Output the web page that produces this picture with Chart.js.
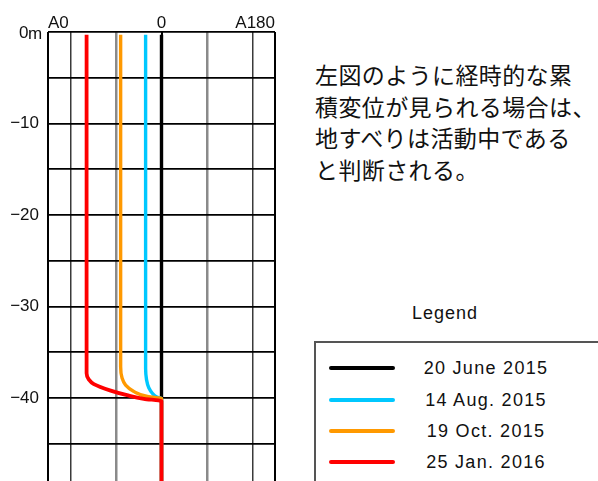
<!DOCTYPE html>
<html lang="ja">
<head>
<meta charset="utf-8">
<title>孔内傾斜計 累積変位</title>
<script src="https://cdn.jsdelivr.net/npm/chart.js@4/dist/chart.umd.min.js"></script>
<style>
  html, body { margin: 0; padding: 0; background: #fff; }
  body { width: 598px; height: 481px; overflow: hidden; position: relative; }
  #plot { position: absolute; left: 0; top: 0; width: 290px; height: 520px; }
  #note {
    position: absolute; left: 315px; top: 59px; margin: 0;
    font-family: "Noto Sans CJK JP", sans-serif; font-size: 23px;
    line-height: 31.7px; letter-spacing: 0.4px; color: #111; white-space: nowrap;
  }
  #legendTitle {
    position: absolute; left: 395px; top: 303px; width: 100px; text-align: center;
    font-family: "Liberation Sans", Arial, sans-serif; font-size: 18px; letter-spacing: 1px; color: #111;
  }
  #legendBox {
    position: absolute; left: 314px; top: 341px; width: 320px; height: 200px;
    border: 2px solid #555; box-sizing: border-box;
  }
  .entry { position: absolute; left: 0; width: 300px; height: 20px; }
  .swatch { position: absolute; left: 13px; top: 8px; width: 66px; height: 4px; border-radius: 2px; }
  .label {
    position: absolute; left: 100px; width: 140px; top: 0; text-align: center;
    font-family: "Liberation Sans", Arial, sans-serif; font-size: 18px; letter-spacing: 1.3px;
    line-height: 20px; color: #111; white-space: nowrap;
  }
</style>
</head>
<body>
<canvas id="plot" width="290" height="520"></canvas>
<p id="note">左図のように経時的な累<br>積変位が見られる場合は、<br>地すべりは活動中である<br>と判断される。</p>
<div id="legendTitle">Legend</div>
<div id="legendBox"></div>
<script>
// Measurement dates and line colours
const seriesNames = ['20 June 2015', '14 Aug. 2015', '19 Oct. 2015', '25 Jan. 2016'];
const seriesColors = ['#000000', '#00c8ff', '#ff9900', '#ff0000'];

// Cumulative displacement (A0 negative, A180 positive) against depth in metres
const juneDisp  = [0, 0];
const juneDepth = [-0.3, -53];

const augDisp   = [-0.35, -0.35, -0.33, -0.28, -0.2, -0.1, 0, 0];
const augDepth  = [-0.3, -36.8, -38.0, -38.9, -39.5, -39.9, -40.05, -53];

const octDisp   = [-0.9, -0.9, -0.87, -0.79, -0.61, -0.31, -0.09, 0, 0];
const octDepth  = [-0.3, -36.6, -37.8, -38.6, -39.3, -39.85, -40.0, -40.05, -53];

const janDisp   = [-1.65, -1.65, -1.6, -1.49, -1.12, -0.76, -0.39, 0, 0];
const janDepth  = [-0.3, -37.3, -38.0, -38.5, -39.2, -39.7, -40.1, -40.35, -53];

// Axis ticks
const depthGrid   = [0, -5, -10, -15, -20, -25, -30, -35, -40, -45, -50];
const depthLabels = [-10, -20, -30, -40];
const dispGrid    = [-2.5, -2, -1, 0, 1, 2, 2.5];
const topLabels   = ['A0', '0', 'A180'];

const dispSeries  = [juneDisp, augDisp, octDisp, janDisp];
const depthSeries = [juneDepth, augDepth, octDepth, janDepth];

const toPoints = (xs, ys) => xs.map((x, i) => ({ x: x, y: ys[i] }));

const datasets = seriesNames.map((name, i) => ({
  label: name,
  data: toPoints(dispSeries[i], depthSeries[i]),
  borderColor: seriesColors[i],
  backgroundColor: seriesColors[i],
  borderWidth: i === 3 ? 3.8 : 3.4,
  showLine: true,
  pointRadius: 0,
  cubicInterpolationMode: 'monotone',
  fill: false,
  order: seriesNames.length - i,
  borderCapStyle: 'butt'
}));

// Labels above the plot and the "0m" depth label
const frameLabels = {
  id: 'frameLabels',
  afterDraw(chart) {
    const { ctx, chartArea, scales } = chart;
    ctx.save();
    ctx.fillStyle = '#111';
    ctx.font = '17px "Liberation Sans", Arial, sans-serif';
    ctx.textBaseline = 'alphabetic';
    const base = chartArea.top - 4;
    ctx.textAlign = 'left';
    ctx.fillText(topLabels[0], scales.x.getPixelForValue(dispGrid[0]), base);
    ctx.textAlign = 'center';
    ctx.fillText(topLabels[1], scales.x.getPixelForValue(0), base);
    ctx.textAlign = 'right';
    ctx.fillText(topLabels[2], scales.x.getPixelForValue(dispGrid[dispGrid.length - 1]), base);

    const y0 = scales.y.getPixelForValue(0);
    ctx.textAlign = 'left';
    ctx.fillText('0', chartArea.left - 29, y0 + 6);
    ctx.fillText('m', chartArea.left - 20, y0 + 7);
    ctx.restore();
  }
};

new Chart(document.getElementById('plot'), {
  type: 'scatter',
  data: { datasets: datasets },
  plugins: [frameLabels],
  options: {
    responsive: false,
    devicePixelRatio: 1,
    animation: false,
    events: [],
    indexAxis: 'y',
    layout: { autoPadding: false, padding: { top: 32, right: 15, left: 0, bottom: 0 } },
    plugins: { legend: { display: false }, tooltip: { enabled: false } },
    scales: {
      x: {
        type: 'linear',
        position: 'top',
        min: dispGrid[0],
        max: dispGrid[dispGrid.length - 1],
        afterBuildTicks: s => { s.ticks = dispGrid.map(v => ({ value: v })); },
        ticks: { display: false },
        border: { display: false },
        grid: {
          drawTicks: false,
          color: c => {
            const v = Math.abs(c.tick.value);
            if (v === 1) return '#8a8a8a';
            if (v === 2) return '#3a3a3a';
            return '#000';
          },
          lineWidth: c => {
            const v = Math.abs(c.tick.value);
            if (v === 1) return 2.5;
            if (v === 2) return 1.5;
            return 2;
          }
        }
      },
      y: {
        type: 'linear',
        position: 'left',
        min: -51.25,
        max: 0,
        afterFit: s => { s.width = 48; },
        afterBuildTicks: s => { s.ticks = depthGrid.map(v => ({ value: v })); },
        border: { display: false },
        grid: { drawTicks: false, color: '#000', lineWidth: 1.8 },
        ticks: {
          padding: 9,
          color: '#111',
          font: { family: '"Liberation Sans", Arial, sans-serif', size: 17 },
          callback: v => depthLabels.includes(v) ? '\u2212' + Math.abs(v) : ''
        }
      }
    }
  }
});

// Legend entries built from the same series list
const box = document.getElementById('legendBox');
const rowTops = [15, 46.5, 78, 109];
seriesNames.forEach((name, i) => {
  const row = document.createElement('div');
  row.className = 'entry';
  row.style.top = rowTops[i] + 'px';
  const sw = document.createElement('div');
  sw.className = 'swatch';
  sw.style.background = seriesColors[i];
  const lb = document.createElement('div');
  lb.className = 'label';
  lb.textContent = name;
  row.appendChild(sw);
  row.appendChild(lb);
  box.appendChild(row);
});
</script>
</body>
</html>
